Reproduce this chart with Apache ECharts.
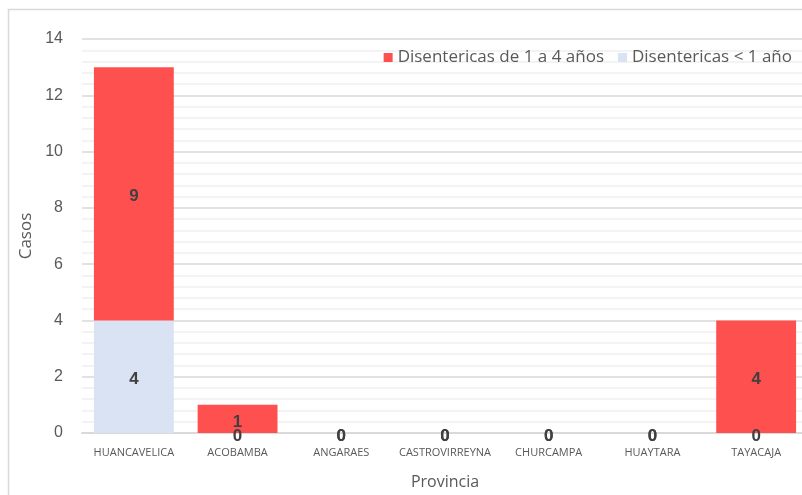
<!DOCTYPE html>
<html><head><meta charset="utf-8">
<script src="https://cdn.jsdelivr.net/npm/echarts@6/dist/echarts.min.js"></script>
<style>html,body{margin:0;padding:0;background:#fff;overflow:hidden}#c{width:812px;height:495px}</style>
</head><body><div id="c"></div>
<script>
const categories = ['HUANCAVELICA','ACOBAMBA','ANGARAES','CASTROVIRREYNA','CHURCAMPA','HUAYTARA','TAYACAJA'];
const menor1 = [4,0,0,0,0,0,0];
const de1a4 = [9,1,0,0,0,0,4];
const seriesNames = ['Disentericas de 1 a 4 años','Disentericas < 1 año'];
const yTicks = [0,2,4,6,8,10,12,14];

const font = '"Open Sans",sans-serif';
const chart = echarts.init(document.getElementById('c'));
const labelStyle = {show:true, position:'inside', offset:[0,3], color:'#404040', fontWeight:'bold', fontSize:17, fontFamily:'"Liberation Sans", sans-serif'};
chart.setOption({
  animation:false,
  graphic:[{type:'polyline', shape:{points:[[8.5,500],[8.5,9.5],[812,9.5]]}, style:{stroke:'#d9d9d9', lineWidth:1.5, fill:null}, silent:true}],
  legend:{
    right:15, top:44, itemWidth:9, itemHeight:9, itemGap:14, icon:'rect',
    data:seriesNames,
    textStyle:{fontFamily:font, fontSize:17, color:'#595959'}
  },
  grid:{left:82, top:39, width:726, height:394, containLabel:false},
  xAxis:{
    type:'category', data:categories,
    name:'Provincia', nameLocation:'middle', nameGap:41,
    nameTextStyle:{fontFamily:font, fontSize:16, color:'#595959'},
    axisTick:{show:false},
    axisLine:{lineStyle:{color:'#d9d9d9', width:2}},
    axisLabel:{fontFamily:font, fontSize:11, color:'#595959', margin:14, interval:0}
  },
  yAxis:{
    type:'value', min:yTicks[0], max:yTicks[yTicks.length-1], interval:2,
    name:'Casos', nameLocation:'middle', nameGap:44,
    nameTextStyle:{fontFamily:font, fontSize:17, color:'#595959'},
    axisLine:{show:false}, axisTick:{show:false},
    axisLabel:{fontFamily:'"Liberation Sans", sans-serif', fontSize:16, color:'#595959', margin:19},
    splitLine:{lineStyle:{color:'#d9d9d9', width:1.5}},
    minorTick:{show:false, splitNumber:5},
    minorSplitLine:{show:true, lineStyle:{color:'#efefef', width:1.5}}
  },
  series:[
    {name:seriesNames[1], type:'bar', stack:'s', data:menor1, barCategoryGap:'23%',
     itemStyle:{color:'#dae3f3'}, label:labelStyle},
    {name:seriesNames[0], type:'bar', stack:'s', data:de1a4, barCategoryGap:'23%',
     itemStyle:{color:'#ff5050'}, label:labelStyle}
  ]
});
</script></body></html>
